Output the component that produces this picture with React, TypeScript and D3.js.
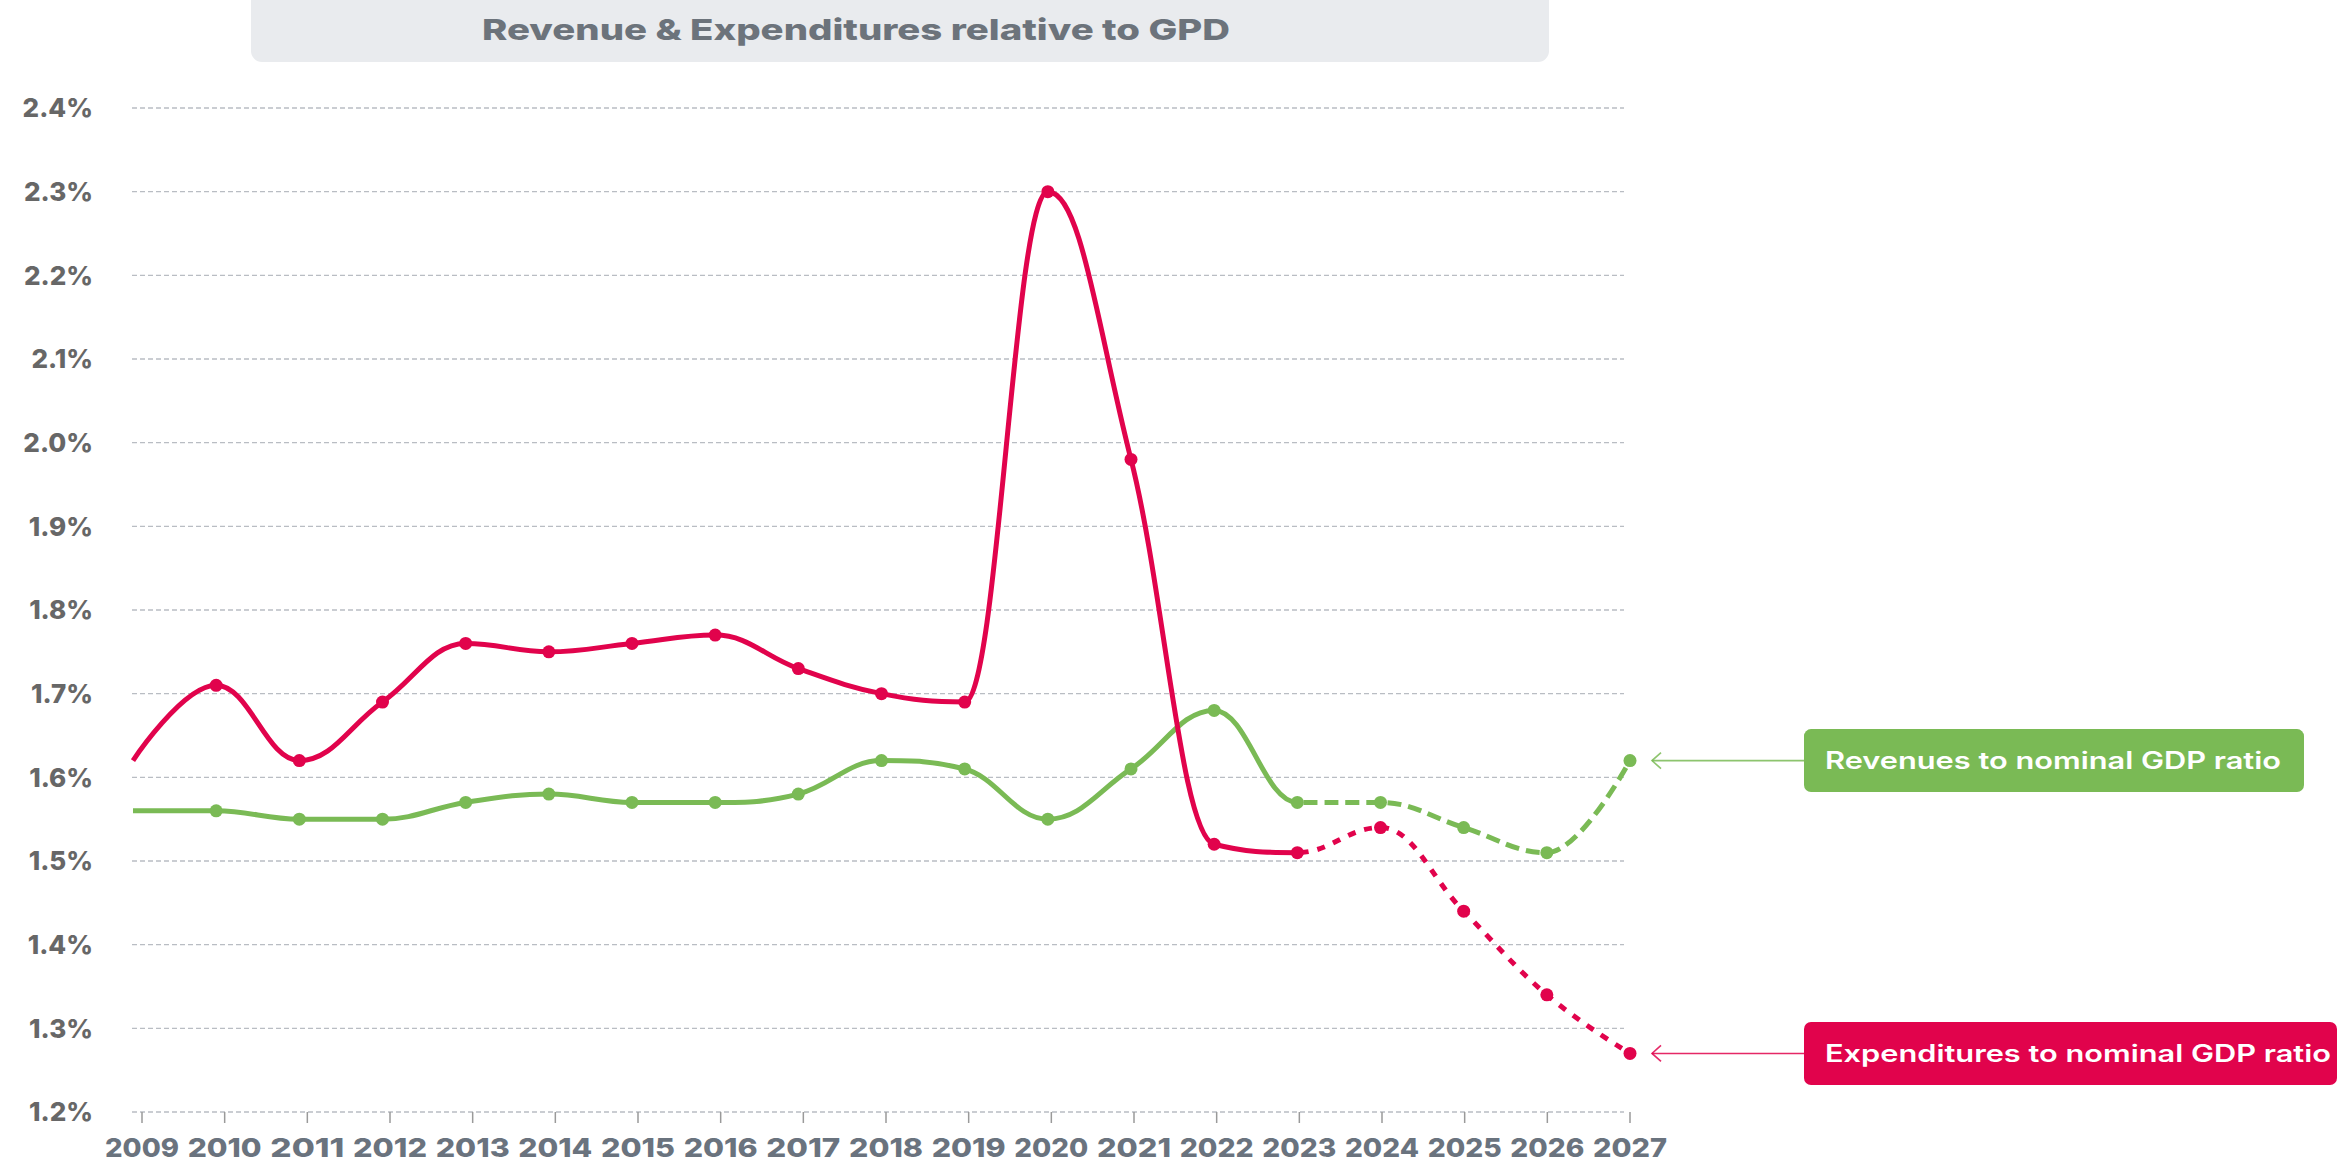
import React from "react";
import * as d3 from "d3";

const years = [2009, 2010, 2011, 2012, 2013, 2014, 2015, 2016, 2017, 2018, 2019, 2020, 2021, 2022, 2023, 2024, 2025, 2026, 2027];
const revenues = [1.56, 1.56, 1.55, 1.55, 1.57, 1.58, 1.57, 1.57, 1.58, 1.62, 1.61, 1.55, 1.61, 1.68, 1.57, 1.57, 1.54, 1.51, 1.62];
const expenditures = [1.62, 1.71, 1.62, 1.69, 1.76, 1.75, 1.76, 1.77, 1.73, 1.70, 1.69, 2.30, 1.98, 1.52, 1.51, 1.54, 1.44, 1.34, 1.27];
const yTicks = [1.2, 1.3, 1.4, 1.5, 1.6, 1.7, 1.8, 1.9, 2.0, 2.1, 2.2, 2.3, 2.4];
const forecastFrom = 2023;
const title = "Revenue & Expenditures relative to GPD";
const revLabel = "Revenues to nominal GDP ratio";
const expLabel = "Expenditures to nominal GDP ratio";

const W = 2347;
const H = 1162;
const GREEN = "#7aba55";
const RED = "#e1034c";
const FONT = "Inter, 'Noto Sans', 'DejaVu Sans', sans-serif";

// Spline curve in the style of a smoothed chart spline (smoothing 1.5, no false extremes)
function splineCurve(context: any) {
  let pts: [number, number][] = [];
  return {
    areaStart() {},
    areaEnd() {},
    lineStart() {
      pts = [];
    },
    point(x: number, y: number) {
      pts.push([+x, +y]);
    },
    lineEnd() {
      const n = pts.length;
      if (!n) return;
      const smoothing = 1.5;
      const denom = smoothing + 1;
      let prevRight: [number, number] | null = null;
      context.moveTo(pts[0][0], pts[0][1]);
      for (let i = 1; i < n; i++) {
        const [px, py] = pts[i];
        const last = pts[i - 1];
        const next = pts[i + 1];
        let lcx = px;
        let lcy = py;
        let rightCont: [number, number] | null = null;
        if (next) {
          const [lx, ly] = last;
          const [nx, ny] = next;
          lcx = (smoothing * px + lx) / denom;
          lcy = (smoothing * py + ly) / denom;
          const rcx = (smoothing * px + nx) / denom;
          let rcy = (smoothing * py + ny) / denom;
          let corr = 0;
          if (rcx !== lcx) {
            corr = ((rcy - lcy) * (rcx - px)) / (rcx - lcx) + py - rcy;
          }
          lcy += corr;
          rcy += corr;
          if (lcy > ly && lcy > py) {
            lcy = Math.max(ly, py);
            rcy = 2 * py - lcy;
          } else if (lcy < ly && lcy < py) {
            lcy = Math.min(ly, py);
            rcy = 2 * py - lcy;
          }
          if (rcy > ny && rcy > py) {
            rcy = Math.max(ny, py);
            lcy = 2 * py - rcy;
          } else if (rcy < ny && rcy < py) {
            rcy = Math.min(ny, py);
            lcy = 2 * py - rcy;
          }
          rightCont = [rcx, rcy];
        }
        const c1 = prevRight || last;
        context.bezierCurveTo(c1[0], c1[1], lcx, lcy, px, py);
        prevRight = rightCont;
      }
    },
  };
}

export default function App() {
  const x = d3.scaleLinear().domain([2009, 2027]).range([133, 1630]);
  const xAxis = d3.scaleLinear().domain([2009, 2027]).range([142, 1630]);
  const y = d3.scaleLinear().domain([1.2, 2.4]).range([1112, 108]);
  const gridX0 = 132;
  const gridX1 = 1624;

  const line = d3
    .line<number>()
    .x((_, i) => x(years[i]))
    .y((d) => y(d))
    .curve(splineCurve as any);

  const split = x(forecastFrom);

  const series = [
    { values: revenues, color: GREEN, dash: "14,7", label: revLabel, id: "rev" },
    { values: expenditures, color: RED, dash: "8,9", label: expLabel, id: "exp" },
  ];

  const boxX = 1804;
  const boxH = 63;

  return (
    <svg
      width={W}
      height={H}
      style={{ position: "absolute", left: 0, top: 0, background: "#fff" }}
      fontFamily={FONT}
    >
      <defs>
        <clipPath id="solidClip">
          <rect x={0} y={0} width={split} height={H} />
        </clipPath>
        <clipPath id="dashClip">
          <rect x={split} y={0} width={W - split} height={H} />
        </clipPath>
      </defs>

      {/* title */}
      <rect x={251} y={-12} width={1298} height={74} rx={11} fill="#e9ebee" />
      <text
        x={856}
        y={40}
        textAnchor="middle"
        fontSize={29}
        fontWeight={800}
        fill="#6c737b"
        textLength={748}
        lengthAdjust="spacingAndGlyphs"
      >
        {title}
      </text>

      {/* grid */}
      {yTicks.map((t) => (
        <g key={t}>
          <line
            x1={gridX0}
            x2={gridX1}
            y1={y(t)}
            y2={y(t)}
            stroke="#b9bdc3"
            strokeWidth={1.4}
            strokeDasharray="5,3"
          />
          <text
            x={93}
            y={y(t)}
            dy="0.36em"
            textAnchor="end"
            fontSize={26}
            fontWeight={800}
            fill="#676767"
          >
            {d3.format(".1f")(t) + "%"}
          </text>
        </g>
      ))}

      {/* x axis ticks */}
      {years.map((yr) => (
        <g key={yr}>
          <line x1={xAxis(yr)} x2={xAxis(yr)} y1={y(1.2)} y2={y(1.2) + 11} stroke="#9a9a9a" strokeWidth={1.5} />
          <text
            x={xAxis(yr)}
            y={1157}
            textAnchor="middle"
            fontSize={26}
            fontWeight={800}
            fill="#6a737e"
            textLength={74}
            lengthAdjust="spacingAndGlyphs"
          >
            {yr}
          </text>
        </g>
      ))}

      {/* series */}
      {series.map((s) => {
        const d = line(s.values) || "";
        return (
          <g key={s.id}>
            <path d={d} fill="none" stroke={s.color} strokeWidth={5} clipPath="url(#solidClip)" />
            <path
              d={d}
              fill="none"
              stroke={s.color}
              strokeWidth={5}
              strokeDasharray={s.dash}
              clipPath="url(#dashClip)"
            />
            {s.values.map((v, i) =>
              i === 0 ? null : <circle key={i} cx={x(years[i])} cy={y(v)} r={6.5} fill={s.color} />
            )}
          </g>
        );
      })}

      {/* labels */}
      {series.map((s) => {
        const last = s.values[s.values.length - 1];
        const py = y(last);
        const ax0 = x(years[years.length - 1]) + 22;
        const tw = s.id === "rev" ? 456 : 506;
        const bw = s.id === "rev" ? 500 : 533;
        return (
          <g key={s.id + "lab"}>
            <line x1={ax0} x2={boxX} y1={py} y2={py} stroke={s.color} strokeWidth={1.6} opacity={0.85} />
            <path
              d={`M${ax0 + 9},${py - 8} L${ax0},${py} L${ax0 + 9},${py + 8}`}
              fill="none"
              stroke={s.color}
              strokeWidth={1.6}
              opacity={0.85}
            />
            <rect x={boxX} y={py - boxH / 2} width={bw} height={boxH} rx={7} fill={s.color} />
            <text
              x={1825}
              y={py}
              dy="0.36em"
              fontSize={24}
              fontWeight={600}
              fill="#ffffff"
              textLength={tw}
              lengthAdjust="spacingAndGlyphs"
            >
              {s.label}
            </text>
          </g>
        );
      })}
    </svg>
  );
}
